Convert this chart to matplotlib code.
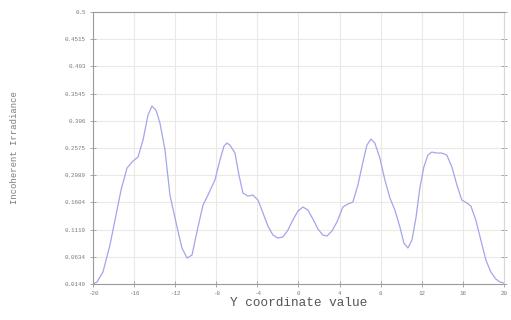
import matplotlib
matplotlib.use("Agg")
import matplotlib.pyplot as plt

# Irradiance profile along the Y coordinate
y_coord = [-20.0, -19.61, -19.03, -18.35, -17.76, -17.27, -16.69, -16.11, -15.62, -15.13,
           -14.65, -14.26, -13.87, -13.48, -12.99, -12.51, -11.82, -11.34, -10.85, -10.36,
           -9.78, -9.29, -8.81, -8.13, -7.64, -7.25, -6.96, -6.67, -6.18, -5.79,
           -5.40, -4.91, -4.43, -3.94, -3.45, -2.97, -2.48, -1.99, -1.51, -1.02,
           -0.54, -0.05, 0.44, 0.92, 1.41, 1.90, 2.38, 2.77, 3.26, 3.75,
           4.33, 4.82, 5.30, 5.79, 6.28, 6.67, 7.06, 7.44, 7.93, 8.42,
           8.91, 9.39, 9.88, 10.27, 10.66, 11.05, 11.44, 11.82, 12.21, 12.60,
           12.99, 13.48, 13.97, 14.45, 14.94, 15.43, 15.91, 16.40, 16.79, 17.27,
           17.76, 18.25, 18.73, 19.22, 19.61, 20.0]
irradiance = [0.0149, 0.0185, 0.0363, 0.0844, 0.1379, 0.1825, 0.2217, 0.2341, 0.2413, 0.2716,
              0.3161, 0.3322, 0.3251, 0.3019, 0.2538, 0.1735, 0.1165, 0.0791, 0.0612, 0.0666,
              0.1165, 0.1557, 0.1735, 0.2003, 0.2359, 0.2609, 0.2662, 0.2627, 0.2484, 0.2092,
              0.1771, 0.1718, 0.1735, 0.1646, 0.1415, 0.1183, 0.1022, 0.0969, 0.0987, 0.1112,
              0.1290, 0.1450, 0.1522, 0.1468, 0.1308, 0.1129, 0.1022, 0.1005, 0.1094, 0.1254,
              0.1522, 0.1575, 0.1611, 0.1914, 0.2324, 0.2627, 0.2734, 0.2662, 0.2395, 0.2003,
              0.1682, 0.1468, 0.1165, 0.0880, 0.0791, 0.0933, 0.1325, 0.1860, 0.2235, 0.2448,
              0.2502, 0.2484, 0.2484, 0.2448, 0.2235, 0.1914, 0.1646, 0.1593, 0.1539, 0.1290,
              0.0933, 0.0577, 0.0363, 0.0238, 0.0185, 0.0167]

x_ticks = [-20, -16, -12, -8, -4, 0, 4, 8, 12, 16, 20]
y_ticks = [0.0149, 0.0634, 0.1119, 0.1604, 0.2089, 0.2575, 0.3060, 0.3545, 0.4030, 0.4515, 0.5]
y_tick_labels = ["0.0149", "0.0634", "0.1119", "0.1604", "0.2089", "0.2575",
                 "0.306", "0.3545", "0.403", "0.4515", "0.5"]

mono = "Liberation Mono"
text_col = "#7a7a7a"

fig = plt.figure(figsize=(5.11, 3.20), dpi=100)
ax = fig.add_axes([0.182, 0.1125, 0.804, 0.85])

ax.plot(y_coord, irradiance, color="#a4a4ec", linewidth=0.9)

ax.set_xlim(-20, 20)
ax.set_ylim(0.0149, 0.5)
ax.set_xticks(x_ticks)
ax.set_xticklabels([str(t) for t in x_ticks])
ax.set_yticks(y_ticks)
ax.set_yticklabels(y_tick_labels)

ax.grid(True, color="#ece9e4", linewidth=0.8)
ax.set_axisbelow(True)
for side in ("left", "bottom", "top", "right"):
    ax.spines[side].set_color("#9a9a9a")
    ax.spines[side].set_linewidth(0.8)
ax.spines["right"].set_color("#d8d8d8")

ax.tick_params(axis="both", direction="inout", length=4, width=0.6, color="#9a9a9a",
               labelsize=4.2, labelcolor=text_col, pad=3)
ax.tick_params(axis="y", right=True)
for lbl in ax.get_xticklabels() + ax.get_yticklabels():
    lbl.set_fontfamily(mono)

ax.set_xlabel("Y coordinate value", fontfamily=mono, fontsize=9.2, color="#555555")
ax.xaxis.set_label_coords(0.5, -0.046)
ax.set_ylabel("Incoherent Irradiance", fontfamily=mono, fontsize=6.4, color=text_col)
ax.yaxis.set_label_coords(-0.18, 0.5)

fig.savefig("out.png", dpi=100, facecolor="white")
